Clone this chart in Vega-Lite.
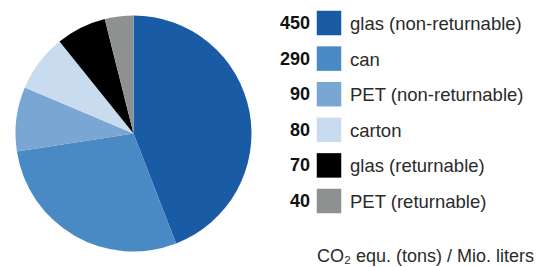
{
  "$schema": "https://vega.github.io/schema/vega-lite/v6.json",
  "padding": 0,
  "spacing": 0,
  "background": "white",
  "config": {"view": {"stroke": null}, "concat": {"spacing": 0}},
  "data": {"values": [
    {"rank": 1, "category": "glas (non-returnable)", "value": 450},
    {"rank": 2, "category": "can", "value": 290},
    {"rank": 3, "category": "PET (non-returnable)", "value": 90},
    {"rank": 4, "category": "carton", "value": 80},
    {"rank": 5, "category": "glas (returnable)", "value": 70},
    {"rank": 6, "category": "PET (returnable)", "value": 40}
  ]},
  "hconcat": [
    {
      "width": 267,
      "height": 267,
      "mark": {"type": "arc", "outerRadius": 118},
      "encoding": {
        "theta": {"field": "value", "type": "quantitative", "stack": true},
        "order": {"field": "rank", "type": "quantitative", "sort": "ascending"},
        "color": {
          "field": "category", "type": "nominal", "legend": null,
          "scale": {
            "domain": ["glas (non-returnable)", "can", "PET (non-returnable)", "carton", "glas (returnable)", "PET (returnable)"],
            "range": ["#1a5ba6", "#4a8ac4", "#7aa6d4", "#c9dcef", "#000000", "#8f9191"]
          }
        }
      }
    },
    {
      "width": 280,
      "height": 267,
      "layer": [
        {
          "mark": {"type": "text", "align": "right", "baseline": "middle", "fontSize": 18, "fontWeight": "bold", "font": "Liberation Sans", "color": "#111", "dy": 1},
          "encoding": {
            "x": {"datum": 43, "type": "quantitative", "axis": null, "scale": {"domain": [0, 280], "nice": false, "zero": true}},
            "y": {"field": "rank", "type": "quantitative", "axis": null,
                  "scale": {"domain": [0.354, 7.854], "reverse": true, "zero": false, "nice": false}},
            "text": {"field": "value", "type": "quantitative"}
          }
        },
        {
          "mark": {"type": "square", "size": 600, "opacity": 1},
          "encoding": {
            "x": {"datum": 62, "type": "quantitative"},
            "y": {"field": "rank", "type": "quantitative"},
            "color": {
              "field": "category", "type": "nominal", "legend": null,
              "scale": {
                "domain": ["glas (non-returnable)", "can", "PET (non-returnable)", "carton", "glas (returnable)", "PET (returnable)"],
                "range": ["#1a5ba6", "#4a8ac4", "#7aa6d4", "#c9dcef", "#000000", "#8f9191"]
              }
            }
          }
        },
        {
          "mark": {"type": "text", "align": "left", "baseline": "middle", "fontSize": 18.5, "font": "Liberation Sans", "color": "#2a2a2a", "dy": 1},
          "encoding": {
            "x": {"datum": 83, "type": "quantitative"},
            "y": {"field": "rank", "type": "quantitative"},
            "text": {"field": "category", "type": "nominal"}
          }
        },
        {
          "data": {"values": [{"label": "CO₂ equ. (tons) / Mio. liters"}]},
          "mark": {"type": "text", "align": "left", "baseline": "middle", "fontSize": 18, "font": "Liberation Sans", "color": "#2a2a2a"},
          "encoding": {
            "x": {"datum": 50, "type": "quantitative"},
            "y": {"datum": 7.57, "type": "quantitative"},
            "text": {"field": "label", "type": "nominal"}
          }
        }
      ]
    }
  ]
}
